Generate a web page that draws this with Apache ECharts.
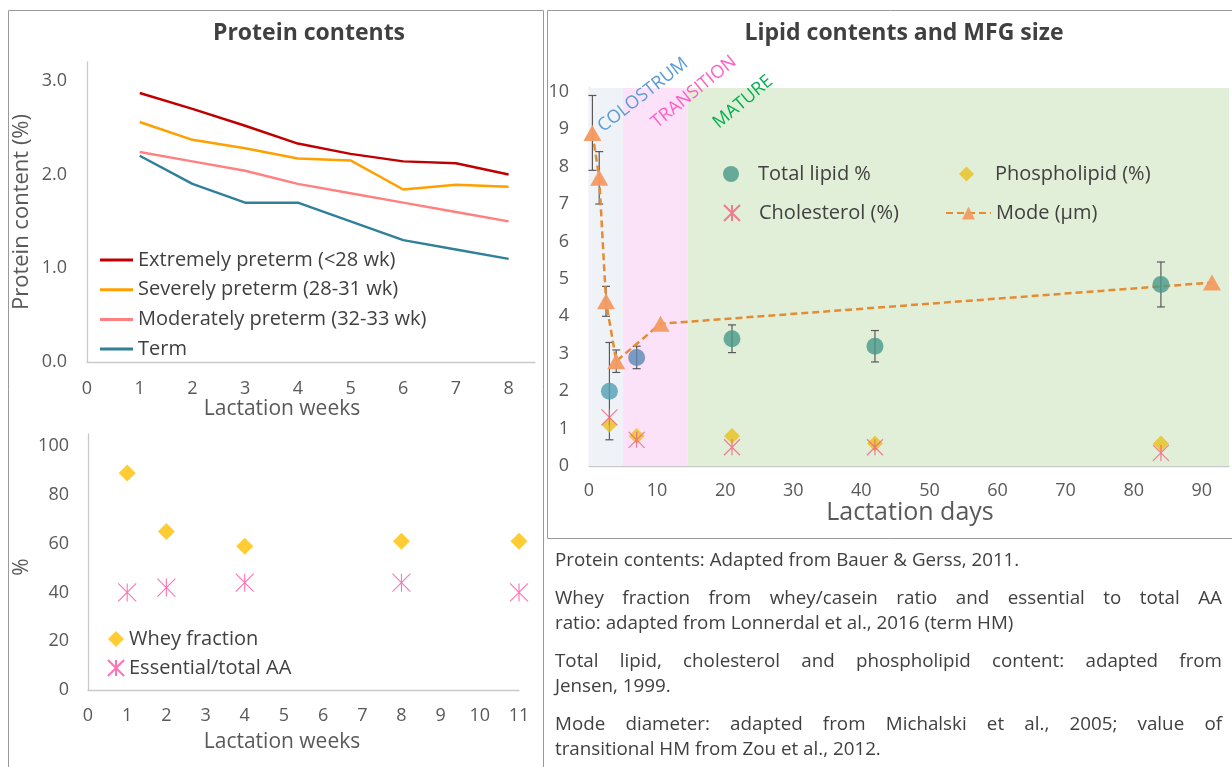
<!DOCTYPE html>
<html><head><meta charset="utf-8">
<script src="https://cdn.jsdelivr.net/npm/echarts@6/dist/echarts.min.js"></script>
<style>
html,body{margin:0;padding:0;background:#fff;}
#c{position:absolute;left:0;top:0;width:1232px;height:767px;}
#notes{position:absolute;left:555px;top:547px;width:667px;font-family:'Open Sans','Noto Sans',sans-serif;font-size:18.8px;line-height:25.5px;color:#404040;}
#notes .ln{white-space:nowrap;}
#notes .j{text-align:justify;text-align-last:justify;}
#notes .gap{margin-top:12px;}
</style></head><body>
<div id="c"></div>
<div id="notes">
<div class="ln">Protein contents: Adapted from Bauer &amp; Gerss, 2011.</div>
<div class="ln j gap">Whey fraction from whey/casein ratio and essential to total AA</div>
<div class="ln">ratio: adapted from Lonnerdal et al., 2016 (term HM)</div>
<div class="ln j gap">Total lipid, cholesterol and phospholipid content: adapted from</div>
<div class="ln">Jensen, 1999.</div>
<div class="ln j gap">Mode diameter: adapted from Michalski et al., 2005; value of</div>
<div class="ln">transitional HM from Zou et al., 2012.</div>
</div>
<script>
// ---------- data ----------
const proteinWeeks = [1, 2, 3, 4, 5, 6, 7, 8];
const proteinNames = ['Extremely preterm (<28 wk)', 'Severely preterm (28-31 wk)', 'Moderately preterm (32-33 wk)', 'Term'];
const extremelyPreterm = [2.87, 2.70, 2.52, 2.33, 2.22, 2.14, 2.12, 2.00];
const severelyPreterm = [2.56, 2.37, 2.28, 2.17, 2.15, 1.84, 1.89, 1.87];
const moderatelyPreterm = [2.24, 2.14, 2.04, 1.90, 1.80, 1.70, 1.60, 1.50];
const termProtein = [2.20, 1.90, 1.70, 1.70, 1.50, 1.30, 1.20, 1.10];

const aaWeeks = [1, 2, 4, 8, 11];
const aaNames = ['Whey fraction', 'Essential/total AA'];
const wheyFraction = [89, 65, 59, 61, 61];
const essentialAA = [40, 42, 44, 44, 40];

const lipidNames = ['Total lipid %', 'Phospholipid (%)', 'Cholesterol (%)', 'Mode (\u00b5m)'];
const lipidDays = [3, 7, 21, 42, 84];
const totalLipid = [2.0, 2.9, 3.4, 3.2, 4.85];
const totalLipidErr = [1.3, 0.3, 0.37, 0.42, 0.6];
const phospholipid = [1.1, 0.8, 0.8, 0.6, 0.6];
const cholesterol = [1.3, 0.7, 0.5, 0.5, 0.35];
const modeDays = [0.5, 1.5, 2.5, 4, 10.5, 91.5];
const modeDiameter = [8.9, 7.7, 4.4, 2.8, 3.8, 4.9];
const modeErr = [1.0, 0.7, 0.4, 0.3, 0, 0];

const stageNames = ['COLOSTRUM', 'TRANSITION', 'MATURE'];
const stageBounds = [0, 5, 14.5, 94];

// ---------- styles ----------
const FONT = "'Open Sans','Noto Sans',sans-serif";
const proteinColors = ['#C00000', '#FFA000', '#FF8080', '#2F8098'];
const stageFill = ['#EFF3F7', '#FBE2F8', '#E2EFD8'];
const stageText = ['#5B9BD5', '#FF5FC8', '#00B050'];
const lipidDotColors = ['#519FB2', '#5D87B3', '#48998A', '#48998A', '#48998A'];
const ASTER = 'path://M0,0L10,10M10,0L0,10M5,0L5,10';
const AXC = '#C9C9C9', LBL = '#595959', TXT = '#404040';
const TICK = 18, LEG = 20;

const chart = echarts.init(document.getElementById('c'), null, {renderer: 'canvas'});

function axisBase(gridIndex, min, max, interval, fmt, margin) {
  return {
    type: 'value', gridIndex, min, max, interval,
    axisLine: {show: true, lineStyle: {color: AXC, width: 1.3}},
    axisTick: {show: false},
    splitLine: {show: false},
    axisLabel: {color: LBL, fontSize: TICK, fontFamily: FONT, margin, formatter: fmt}
  };
}
const intFmt = v => Math.abs(v - Math.round(v)) < 1e-9 ? String(Math.round(v)) : '';
const oneDec = v => Math.abs(v - Math.round(v)) < 1e-9 ? v.toFixed(1) : '';
const tenFmt = v => (Math.abs(v % 10) < 1e-9) ? String(v) : '';
const twentyFmt = v => (Math.abs(v % 20) < 1e-9) ? String(v) : '';

function errRender(params, api) {
  const x = api.value(0), lo = api.value(1), hi = api.value(2);
  const p1 = api.coord([x, lo]), p2 = api.coord([x, hi]);
  const cw = 4;
  const st = {stroke: '#595959', lineWidth: 1.2, fill: null};
  return {type: 'group', children: [
    {type: 'line', shape: {x1: p1[0], y1: p1[1], x2: p2[0], y2: p2[1]}, style: st},
    {type: 'line', shape: {x1: p1[0] - cw, y1: p1[1], x2: p1[0] + cw, y2: p1[1]}, style: st},
    {type: 'line', shape: {x1: p2[0] - cw, y1: p2[1], x2: p2[0] + cw, y2: p2[1]}, style: st}
  ]};
}

const proteinArrays = [extremelyPreterm, severelyPreterm, moderatelyPreterm, termProtein];
const series = [];
proteinArrays.forEach((arr, k) => {
  series.push({
    name: proteinNames[k], type: 'line', xAxisIndex: 0, yAxisIndex: 0,
    data: proteinWeeks.map((w, i) => [w, arr[i]]),
    symbol: 'none', lineStyle: {color: proteinColors[k], width: 2.5},
    itemStyle: {color: proteinColors[k]}, z: 3
  });
});
series.push({
  name: aaNames[0], type: 'scatter', xAxisIndex: 1, yAxisIndex: 1,
  data: aaWeeks.map((w, i) => [w, wheyFraction[i]]),
  symbol: 'diamond', symbolSize: 17, itemStyle: {color: '#FFC000'}, z: 3
});
series.push({
  name: aaNames[1], type: 'scatter', xAxisIndex: 1, yAxisIndex: 1,
  data: aaWeeks.map((w, i) => [w, essentialAA[i]]),
  symbol: ASTER, symbolSize: 18,
  itemStyle: {color: 'rgba(0,0,0,0)', borderColor: '#FF4FA3', borderWidth: 1.1}, z: 3
});
// stage backgrounds
series.push({
  name: 'stages', type: 'line', xAxisIndex: 2, yAxisIndex: 2, data: [], silent: true, z: 1,
  markArea: {silent: true, data: stageNames.map((s, i) => [
    {xAxis: stageBounds[i], itemStyle: {color: stageFill[i]}},
    {xAxis: stageBounds[i + 1]}
  ])}
});
series.push({
  name: 'lipidErr', type: 'custom', xAxisIndex: 2, yAxisIndex: 2, z: 2, silent: true,
  renderItem: errRender, encode: {x: 0, y: [1, 2]},
  data: lipidDays.map((d, i) => [d, totalLipid[i] - totalLipidErr[i], totalLipid[i] + totalLipidErr[i]])
});
series.push({
  name: 'modeErr', type: 'custom', xAxisIndex: 2, yAxisIndex: 2, z: 2, silent: true,
  renderItem: errRender, encode: {x: 0, y: [1, 2]},
  data: modeDays.map((d, i) => [d, modeDiameter[i] - modeErr[i], modeDiameter[i] + modeErr[i]])
                .filter((r, i) => modeErr[i] > 0)
});
series.push({
  name: lipidNames[3], type: 'line', xAxisIndex: 2, yAxisIndex: 2, z: 4,
  data: modeDays.map((d, i) => [d, modeDiameter[i]]),
  symbol: 'triangle', symbolSize: [18, 16], showSymbol: true,
  lineStyle: {color: '#E58B32', width: 2.5, type: [7, 4]},
  itemStyle: {color: '#F39A62', opacity: 0.95}
});
series.push({
  name: lipidNames[1], type: 'scatter', xAxisIndex: 2, yAxisIndex: 2, z: 5,
  data: lipidDays.map((d, i) => [d, phospholipid[i]]),
  symbol: 'diamond', symbolSize: 16, itemStyle: {color: '#E9C11C'}
});
series.push({
  name: lipidNames[0], type: 'scatter', xAxisIndex: 2, yAxisIndex: 2, z: 5,
  data: lipidDays.map((d, i) => ({value: [d, totalLipid[i]], itemStyle: {color: lipidDotColors[i]}})),
  symbol: 'circle', symbolSize: 17, itemStyle: {color: '#48998A'}
});
series.push({
  name: lipidNames[2], type: 'scatter', xAxisIndex: 2, yAxisIndex: 2, z: 6,
  data: lipidDays.map((d, i) => [d, cholesterol[i]]),
  symbol: ASTER, symbolSize: 16,
  itemStyle: {color: 'rgba(0,0,0,0)', borderColor: '#F0607E', borderWidth: 1.2}
});

function legTS(padLeft) {
  return {color: TXT, fontSize: LEG, fontFamily: FONT, lineHeight: 24, padding: [0, 0, 0, padLeft || 0]};
}
function legendAt(names, left, top, opts) {
  return Object.assign({
    data: names, left, top, orient: 'vertical', selectedMode: false,
    itemWidth: 16, itemHeight: 16, itemGap: 6, padding: 0,
    textStyle: legTS(0)
  }, opts || {});
}

function txt(text, x, y, size, opts) {
  opts = opts || {};
  return {
    type: 'text', x, y, rotation: opts.rot || 0, silent: true, z: 10,
    style: {text, fill: opts.color || LBL, font: (opts.bold ? 'bold ' : '') + size + 'px ' + FONT,
            align: 'center', verticalAlign: 'middle'}
  };
}

const deg = Math.PI / 180;
const option = {
  animation: false,
  backgroundColor: '#ffffff',
  grid: [
    {left: 87, top: 62, width: 448, height: 300},
    {left: 88, top: 434, width: 431, height: 256},
    {left: 589, top: 88, width: 640, height: 378}
  ],
  xAxis: [
    axisBase(0, 0, 8.5, 1, intFmt, 18),
    axisBase(1, 0, 11, 1, intFmt, 17),
    axisBase(2, 0, 94, 10, tenFmt, 16)
  ],
  yAxis: [
    axisBase(0, 0, 3.2, 1, oneDec, 20),
    axisBase(1, 0, 105, 20, twentyFmt, 19),
    axisBase(2, 0, 10.1, 1, intFmt, 20)
  ],
  legend: [
    legendAt(proteinNames, 100, 248, {icon: 'rect', itemWidth: 33, itemHeight: 3, itemGap: 5.7}),
    legendAt(aaNames, 107, 627, {itemGap: 5}),
    legendAt([lipidNames[0]], 723, 162, {textStyle: legTS(14)}),
    legendAt([lipidNames[2]], 723, 201, {textStyle: legTS(14)}),
    legendAt([lipidNames[1]], 959, 162, {itemWidth: 15, itemHeight: 15, textStyle: legTS(16)}),
    legendAt([lipidNames[3]], 945, 201, {itemWidth: 45, itemHeight: 16})
  ],
  graphic: [
    {type: 'rect', silent: true, z: 0, shape: {x: 8.5, y: 10.5, width: 535, height: 800}, style: {fill: 'none', stroke: '#9A9A9A', lineWidth: 1}},
    {type: 'rect', silent: true, z: 0, shape: {x: 547.5, y: 10.5, width: 720, height: 528}, style: {fill: 'none', stroke: '#9A9A9A', lineWidth: 1}},
    txt('Protein contents', 309, 33, 23, {bold: true, color: TXT}),
    txt('Lipid contents and MFG size', 904, 33, 23, {bold: true, color: TXT}),
    txt('Protein content (%)', 22, 212, 22, {rot: 90 * deg}),
    txt('Lactation weeks', 282, 409, 21),
    txt('%', 22, 567, 21, {rot: 90 * deg}),
    txt('Lactation weeks', 282, 742, 21),
    txt('Lactation days', 910, 513, 25),
    txt(stageNames[0], 643, 95, 18, {rot: 38 * deg, color: stageText[0]}),
    txt(stageNames[1], 694, 92, 18, {rot: 39 * deg, color: stageText[1]}),
    txt(stageNames[2], 743, 102, 18, {rot: 40 * deg, color: stageText[2]})
  ],
  series
};
chart.setOption(option);
</script>
</body></html>
